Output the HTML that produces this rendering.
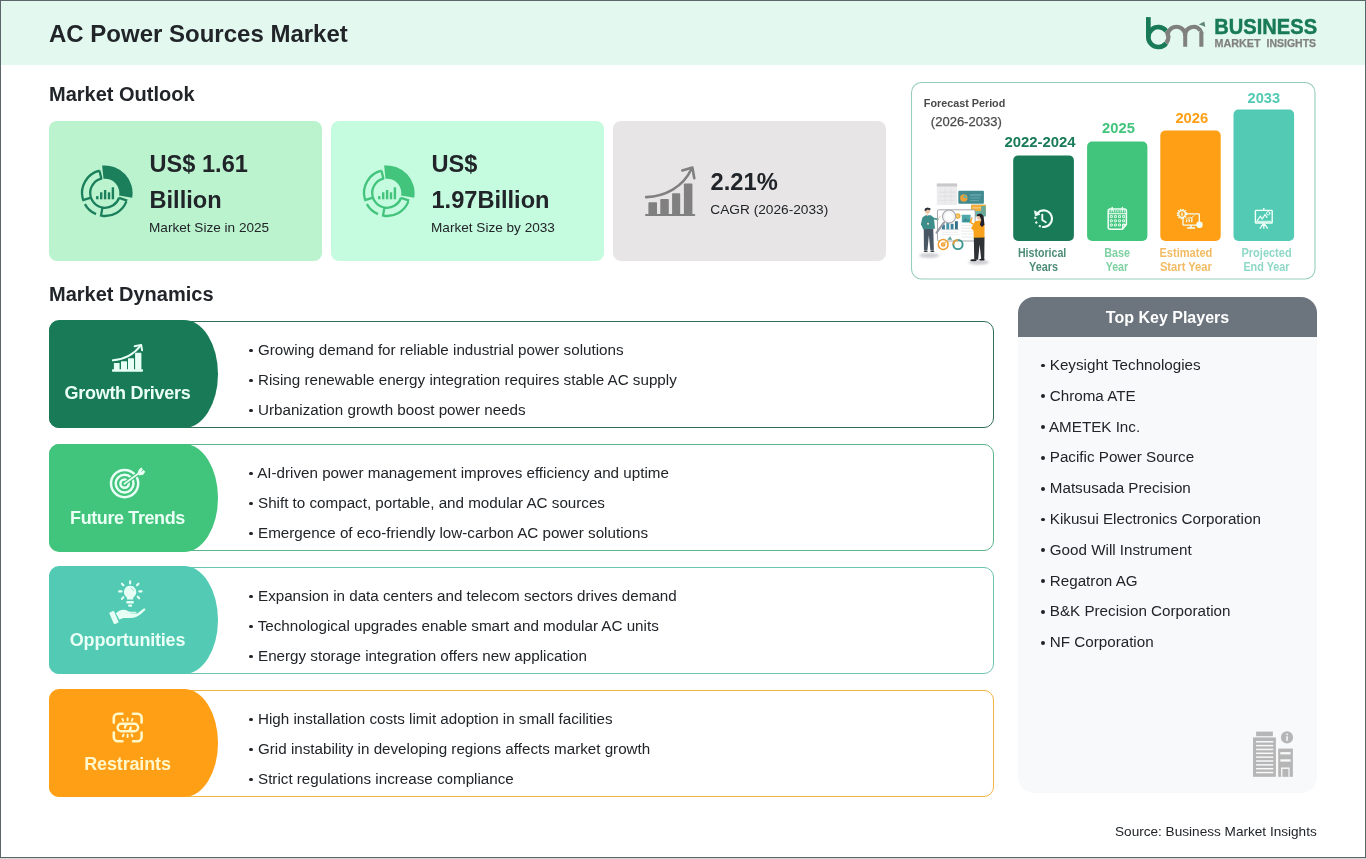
<!DOCTYPE html>
<html>
<head>
<meta charset="utf-8">
<title>AC Power Sources Market</title>
<style>
*{box-sizing:border-box;margin:0;padding:0}
html,body{width:1366px;height:859px;overflow:hidden;background:#fff}
body{font-family:"Liberation Sans",sans-serif;color:#212529;position:relative}
.abs{position:absolute}
body>*{will-change:transform}
#frame{position:absolute;left:0;top:0;width:1366px;height:858px;border:1px solid #5b6668;z-index:50;pointer-events:none}
#frame2{position:absolute;left:0;top:858px;width:1366px;height:1px;background:#d3d6d8;z-index:50}
#header{position:absolute;left:0;top:0;width:1366px;height:65px;background:#e3f8ee}
#title{position:absolute;left:49px;top:20px;font-size:24px;font-weight:bold;line-height:28px;color:#212529;white-space:nowrap}
h2{position:absolute;font-size:20px;font-weight:bold;line-height:24px;color:#212529;white-space:nowrap}
.card{position:absolute;top:121px;height:140px;border-radius:8px}
.card .big{position:absolute;font-size:24px;font-weight:bold;line-height:36px;color:#212529;white-space:nowrap}
.card .sub{position:absolute;font-size:13.6px;line-height:18px;color:#212529;white-space:nowrap}
.row{position:absolute;left:49px;width:945px;height:107px;border:1px solid;border-radius:10px;background:#fff}
.tab{position:absolute;left:-1px;top:-2px;width:168.5px;height:107.7px;border-radius:10px 34px 34px 10px / 10px 53.85px 53.85px 10px}
.tab .lbl{position:absolute;left:0;width:157px;text-align:center;font-size:18px;font-weight:bold;line-height:22px;color:#eafff5;white-space:nowrap}
.row ul{position:absolute;left:198.5px;top:13px;list-style:none}
.row li{font-size:15.2px;line-height:30px;color:#212529;white-space:nowrap}
#kp{position:absolute;left:1018px;top:297px;width:299px;height:496px;background:#f8f9fb;border-radius:16px;overflow:hidden}
#kph{position:absolute;left:0;top:0;width:299px;height:40px;background:#6c757d;color:#fff;font-weight:bold;font-size:16px;line-height:42px;text-align:center}
#kp ul{position:absolute;left:22.3px;top:53px;list-style:none}
#kp li{font-size:15.2px;line-height:30.8px;color:#212529;white-space:nowrap}
.b{display:inline-block;width:3.8px;height:3.8px;border-radius:50%;background:#212529;margin:0 0.7px 0 0.8px;vertical-align:middle;position:relative;top:-0.4px}
#src{position:absolute;right:49px;top:822.5px;font-size:13.6px;line-height:18px;color:#212529;white-space:nowrap}
</style>
</head>
<body>
<div id="header"></div>
<div id="title">AC Power Sources Market</div>
<!--LOGO--><svg class='abs' style='left:1140px;top:10px;z-index:5' width='185' height='45' viewBox='1140 10 185 45'><rect x='1146' y='17.1' width='4.7' height='20' fill='#187a57'/><path d='M1166.18 43.21A10 10 0 1 1 1166.18 30.89' fill='none' stroke='#187a57' stroke-width='4.6'/><path d='M1166.18 30.89A10 10 0 0 1 1166.18 43.21' fill='none' stroke='#808080' stroke-width='4.4'/><path d='M1168.30 37.05C1168.6 36 1167.7 36 1167.7 35.4A8.75 8.75 0 0 1 1185.2 35.4V46.8' fill='none' stroke='#808080' stroke-width='4'/><path d='M1185.2 36V35.2A8.3 8.3 0 0 1 1200.4 30.6' fill='none' stroke='#808080' stroke-width='4'/><path d='M1199.3 46.8V32.2L1201.4 28.6L1203.4 32.2V46.8Z' fill='#808080'/><path d='M1204.3 21.6L1198.8 24.4L1202.2 25.4L1205.3 27Z' fill='#5f8577'/><text x='1214.3' y='34.2' font-family='Liberation Sans, sans-serif' font-weight='bold' font-size='21.6' fill='#187a57' stroke='#187a57' stroke-width='0.45' textLength='102.8' lengthAdjust='spacingAndGlyphs'>BUSINESS</text><text x='1214.6' y='47.3' font-family='Liberation Sans, sans-serif' font-weight='bold' font-size='11.6' fill='#808080' stroke='#808080' stroke-width='0.25' textLength='46' lengthAdjust='spacingAndGlyphs'>MARKET</text><text x='1266.5' y='47.3' font-family='Liberation Sans, sans-serif' font-weight='bold' font-size='11.6' fill='#808080' stroke='#808080' stroke-width='0.25' textLength='49.6' lengthAdjust='spacingAndGlyphs'>INSIGHTS</text></svg><!--/LOGO-->

<h2 style="left:49px;top:82px">Market Outlook</h2>

<div class="card" style="left:49px;width:273px;background:#bbf3cf">
  <!--ICON1--><svg class='abs' style='left:24.2px;top:40.2px' width='64' height='64' viewBox='-32 -32 64 64'><path d='M-2.88 -27.45 A27.60 27.60 0 0 1 27.18 4.79 L14.08 2.48 A14.30 14.30 0 0 0 -1.49 -14.22 Z' fill='#1b7f5c'/><path d='M14.08 4.57 A14.80 14.80 0 1 1 -2.82 -14.53 M-22.22 5.95 A23.00 23.00 0 0 1 -5.56 -22.32 M-3.58 -14.36 L-5.61 -22.51 M-14.08 4.57 L-22.83 7.42 M-8.99 21.17 A23.00 23.00 0 0 1 -20.12 11.15 M21.33 8.62 A23.00 23.00 0 0 1 -3.20 22.78 M-2.57 14.58 L-4.17 23.64 M13.99 4.82 L22.22 7.65' fill='none' stroke='#1b7f5c' stroke-width='2.3'/><rect x='-8.9' y='3.1' width='2.4' height='3.2' fill='#1b7f5c'/><rect x='-5.0' y='-0.7' width='2.4' height='7.0' fill='#1b7f5c'/><rect x='-1.1' y='-3.0' width='2.4' height='9.3' fill='#1b7f5c'/><rect x='2.8' y='-0.7' width='2.4' height='7.0' fill='#1b7f5c'/><rect x='6.7' y='-5.7' width='2.4' height='12.0' fill='#1b7f5c'/></svg><!--/ICON1-->
  <div class="big" style="left:100.5px;top:25px;font-size:23.6px">US$ 1.61<br>Billion</div>
  <div class="sub" style="left:100px;top:98px">Market Size in 2025</div>
</div>
<div class="card" style="left:331px;width:273px;background:#c5fbde">
  <!--ICON2--><svg class='abs' style='left:24.2px;top:40.2px' width='64' height='64' viewBox='-32 -32 64 64'><path d='M-2.88 -27.45 A27.60 27.60 0 0 1 27.18 4.79 L14.08 2.48 A14.30 14.30 0 0 0 -1.49 -14.22 Z' fill='#42c47c'/><path d='M14.08 4.57 A14.80 14.80 0 1 1 -2.82 -14.53 M-22.22 5.95 A23.00 23.00 0 0 1 -5.56 -22.32 M-3.58 -14.36 L-5.61 -22.51 M-14.08 4.57 L-22.83 7.42 M-8.99 21.17 A23.00 23.00 0 0 1 -20.12 11.15 M21.33 8.62 A23.00 23.00 0 0 1 -3.20 22.78 M-2.57 14.58 L-4.17 23.64 M13.99 4.82 L22.22 7.65' fill='none' stroke='#42c47c' stroke-width='2.3'/><rect x='-8.9' y='3.1' width='2.4' height='3.2' fill='#42c47c'/><rect x='-5.0' y='-0.7' width='2.4' height='7.0' fill='#42c47c'/><rect x='-1.1' y='-3.0' width='2.4' height='9.3' fill='#42c47c'/><rect x='2.8' y='-0.7' width='2.4' height='7.0' fill='#42c47c'/><rect x='6.7' y='-5.7' width='2.4' height='12.0' fill='#42c47c'/></svg><!--/ICON2-->
  <div class="big" style="left:100.5px;top:25px;font-size:23.6px">US$<br>1.97Billion</div>
  <div class="sub" style="left:100px;top:98px">Market Size by 2033</div>
</div>
<div class="card" style="left:613px;width:273px;background:#e7e5e6">
  <!--ICON3--><svg class='abs' style='left:27px;top:39px' width='60' height='60' viewBox='640 160 60 60'><rect x='645.2' y='213.9' width='49.9' height='2.1' rx='0.6' fill='#808080'/><path d='M648.4 214.5V203.1a0.8 0.8 0 0 1 .8-.8h7a0.8 0.8 0 0 1 .8.8V214.5Z' fill='#808080'/><path d='M660.3 214.5V199.8a0.8 0.8 0 0 1 .8-.8h6.9a0.8 0.8 0 0 1 .8.8V214.5Z' fill='#808080'/><path d='M672.1 214.5V194.1a0.8 0.8 0 0 1 .8-.8h6.5a0.8 0.8 0 0 1 .8.8V214.5Z' fill='#808080'/><path d='M683.9 214.5V184.3a0.8 0.8 0 0 1 .8-.8h6.9a0.8 0.8 0 0 1 .8.8V214.5Z' fill='#808080'/><path d='M646.2 197.1C665 196.5 683 187 691.3 169.3' fill='none' stroke='#808080' stroke-width='2.6' stroke-linecap='round'/><path d='M682.3 170.4L692.4 167.6L694.3 178.2' fill='none' stroke='#808080' stroke-width='2.6' stroke-linecap='round' stroke-linejoin='round'/></svg><!--/ICON3-->
  <div class="big" style="left:97.6px;top:43.4px;font-size:23.7px">2.21%</div>
  <div class="sub" style="left:97.3px;top:80px;font-size:13.7px">CAGR (2026-2033)</div>
</div>

<!--FORECAST--><svg class='abs' style='left:905px;top:78px' width='415' height='206' viewBox='905 78 415 206'><defs><filter id='b3' x='-10%' y='-10%' width='120%' height='120%'><feGaussianBlur stdDeviation='0.45'/></filter><filter id='b2' x='-10%' y='-10%' width='120%' height='120%'><feGaussianBlur stdDeviation='0.3'/></filter><filter id='b6' x='-30%' y='-30%' width='160%' height='160%'><feGaussianBlur stdDeviation='0.9'/></filter></defs><rect x='911.5' y='82.5' width='403.5' height='196.5' rx='10' fill='#fff' stroke='#96cdbc' stroke-width='1.1'/><text x='923.8' y='106.8' font-family='Liberation Sans, sans-serif' font-weight='bold' font-size='11.4' fill='#4a4a4a' text-anchor='start' textLength='81.5' lengthAdjust='spacingAndGlyphs' filter='url(#b2)'>Forecast Period</text><text x='930.8' y='125.6' font-family='Liberation Sans, sans-serif' font-weight='normal' font-size='13.1' fill='#4a4a4a' text-anchor='start' textLength='71' lengthAdjust='spacingAndGlyphs' filter='url(#b2)' stroke='#4a4a4a' stroke-width='0.25'>(2026-2033)</text><rect x='1013.2' y='155.4' width='60.7' height='85.6' rx='5' fill='#187a57'/><rect x='1087.1' y='141.6' width='60.3' height='99.4' rx='5' fill='#41c47b'/><rect x='1160.3' y='130.6' width='60.4' height='110.4' rx='5' fill='#fe9f15'/><rect x='1233.5' y='109.6' width='60.6' height='131.4' rx='5' fill='#52cab4'/><text x='1004.4' y='147.3' font-family='Liberation Sans, sans-serif' font-weight='bold' font-size='15.4' fill='#187a57' text-anchor='start' textLength='71.2' lengthAdjust='spacingAndGlyphs'>2022-2024</text><text x='1102.1' y='133' font-family='Liberation Sans, sans-serif' font-weight='bold' font-size='15.2' fill='#41c47b' text-anchor='start' textLength='32.8' lengthAdjust='spacingAndGlyphs'>2025</text><text x='1175.4' y='123' font-family='Liberation Sans, sans-serif' font-weight='bold' font-size='15.2' fill='#fe9f15' text-anchor='start' textLength='32.8' lengthAdjust='spacingAndGlyphs'>2026</text><text x='1247.5' y='103.2' font-family='Liberation Sans, sans-serif' font-weight='bold' font-size='15.2' fill='#52cab4' text-anchor='start' textLength='32.6' lengthAdjust='spacingAndGlyphs'>2033</text><g filter='url(#b2)'><text x='1017.9' y='256.7' font-family='Liberation Sans, sans-serif' font-weight='bold' font-size='13' fill='#4c8d76' text-anchor='start' textLength='48.4' lengthAdjust='spacingAndGlyphs'>Historical</text><text x='1029.1' y='271' font-family='Liberation Sans, sans-serif' font-weight='bold' font-size='13' fill='#4c8d76' text-anchor='start' textLength='29' lengthAdjust='spacingAndGlyphs'>Years</text><text x='1104.3' y='256.7' font-family='Liberation Sans, sans-serif' font-weight='bold' font-size='13' fill='#7fd1a3' text-anchor='start' textLength='25.8' lengthAdjust='spacingAndGlyphs'>Base</text><text x='1105.7' y='271' font-family='Liberation Sans, sans-serif' font-weight='bold' font-size='13' fill='#7fd1a3' text-anchor='start' textLength='22.5' lengthAdjust='spacingAndGlyphs'>Year</text><text x='1159.4' y='256.7' font-family='Liberation Sans, sans-serif' font-weight='bold' font-size='13' fill='#f2bb63' text-anchor='start' textLength='53' lengthAdjust='spacingAndGlyphs'>Estimated</text><text x='1159.9' y='271' font-family='Liberation Sans, sans-serif' font-weight='bold' font-size='13' fill='#f2bb63' text-anchor='start' textLength='52' lengthAdjust='spacingAndGlyphs'>Start Year</text><text x='1241.5' y='256.7' font-family='Liberation Sans, sans-serif' font-weight='bold' font-size='13' fill='#8fd8c8' text-anchor='start' textLength='50.1' lengthAdjust='spacingAndGlyphs'>Projected</text><text x='1243.4' y='271' font-family='Liberation Sans, sans-serif' font-weight='bold' font-size='13' fill='#8fd8c8' text-anchor='start' textLength='46.1' lengthAdjust='spacingAndGlyphs'>End Year</text></g><g filter='url(#b2)' fill='none' stroke='#f1fff8' stroke-width='2.1' stroke-linecap='round' stroke-linejoin='round'><path d='M1037.43 213.15A8.3 8.3 0 1 1 1042.88 226.97'/><path d='M1040.76 226.50A8.3 8.3 0 0 1 1035.90 215.59' stroke-dasharray='2 3' stroke-linecap='butt'/><path d='M1034.7 211.2L1035.4 215.6L1039.6 214.4Z' fill='#f1fff8' stroke-width='1'/><path d='M1042.3 214.6V220L1045.8 222.2' stroke-width='1.9'/></g><g filter='url(#b2)' fill='none' stroke='#f1fff8' stroke-width='1.5' stroke-linejoin='round'><path d='M1110.2 208.9H1124.4a2 2 0 0 1 2 2V224.5L1122.4 229.3H1110.2a2 2 0 0 1 -2-2V210.9a2 2 0 0 1 2-2Z'/><path d='M1108.4 213.7H1126.2' stroke-width='1.1'/><path d='M1109.4 211.3H1125.4' stroke-width='2.4' stroke-dasharray='1 0.8' opacity='.8'/><path d='M1112.2 207.4v2.6M1122.4 207.4v2.6' stroke-width='1.5' stroke-linecap='round'/><rect x='1110.3' y='215.6' width='2' height='2' stroke-width='0.9'/><rect x='1114.4' y='215.6' width='2' height='2' stroke-width='0.9'/><rect x='1118.5' y='215.6' width='2' height='2' stroke-width='0.9'/><rect x='1122.6' y='215.6' width='2' height='2' stroke-width='0.9'/><rect x='1110.3' y='219.8' width='2' height='2' stroke-width='0.9'/><rect x='1114.4' y='219.8' width='2' height='2' stroke-width='0.9'/><rect x='1118.5' y='219.8' width='2' height='2' stroke-width='0.9'/><rect x='1122.6' y='219.8' width='2' height='2' stroke-width='0.9'/><rect x='1110.3' y='224.0' width='2' height='2' stroke-width='0.9'/><rect x='1114.4' y='224.0' width='2' height='2' stroke-width='0.9'/><rect x='1118.5' y='224.0' width='2' height='2' stroke-width='0.9'/><rect x='1122.6' y='224.0' width='2' height='2' stroke-width='0.9'/><path d='M1126.2 224.6H1122.6V229.2' stroke-width='1'/></g><g filter='url(#b2)' fill='none' stroke='#f1fff8' stroke-width='1.3' stroke-linejoin='round'><rect x='1183' y='213.8' width='16.3' height='11.4' rx='0.8'/><path d='M1191 225.4v2.2M1187.6 227.9h7' stroke-width='1.5' stroke-linecap='round'/><circle cx='1182' cy='214' r='3.3' fill='#fe9f15'/><circle cx='1182' cy='214' r='4.6' stroke-width='1.5' stroke-dasharray='1.3 1.1'/><path d='M1181.3 215.3L1182 212.5L1182.8 215.3Z' stroke-width='0.7'/><path d='M1186.6 222.2v-2.6M1189.2 222.2v-3.6M1191.8 222.2v-4.8' stroke-width='1.5' opacity='.85'/><path d='M1186.2 219.2L1189.4 217.2L1191.2 218L1194.4 215.4' stroke-width='0.9' opacity='.85'/><circle cx='1199.5' cy='224.8' r='3.2' fill='#f1fff8' stroke='none'/></g><g filter='url(#b2)' fill='none' stroke='#f1fff8' stroke-width='1.4' stroke-linejoin='round' stroke-linecap='round'><rect x='1255.4' y='210.4' width='16.8' height='12.6' rx='0.6'/><path d='M1263.8 208.4v1.8'/><path d='M1257.4 220.4L1260.4 216.2L1262.2 219L1265 214.6L1267 217.4' stroke-width='1.2'/><path d='M1256.6 221.6h14.2' stroke-width='1.6' opacity='.75'/><circle cx='1268.2' cy='213.2' r='1.7' stroke-width='0.9'/><path d='M1263.8 223.6v4.6M1263 224.2L1260.2 228.2M1264.6 224.2L1267.4 228.2' stroke-width='1.3'/></g><!--ILLUS--><g filter='url(#b3)'><ellipse cx='929.21' cy='255.56' rx='9.90' ry='2.56' fill='#cfcfd4' filter='url(#b6)'/><ellipse cx='978.68' cy='262.20' rx='10.24' ry='2.56' fill='#cfcfd4' filter='url(#b6)'/><rect x='936.78' y='183.39' width='20.37' height='21.54' rx='0.5' fill='#ececee'/><rect x='936.78' y='183.39' width='20.37' height='3.14' rx='0.5' fill='#c9c9cc'/><path d='M939.10 192.12 L954.82 192.12' fill='none' stroke='#d9d9dc' stroke-width='0.7' stroke-linecap='round' stroke-linejoin='round'/><path d='M939.10 196.19 L954.82 196.19' fill='none' stroke='#d9d9dc' stroke-width='0.7' stroke-linecap='round' stroke-linejoin='round'/><path d='M939.10 200.27 L954.82 200.27' fill='none' stroke='#dcdcde' stroke-width='0.7' stroke-linecap='round' stroke-linejoin='round'/><path d='M944.92 188.63 L944.92 203.76' fill='none' stroke='#dedee0' stroke-width='0.6' stroke-linecap='round' stroke-linejoin='round'/><path d='M950.75 188.63 L950.75 203.76' fill='none' stroke='#dedee0' stroke-width='0.6' stroke-linecap='round' stroke-linejoin='round'/><rect x='958.31' y='190.72' width='25.61' height='13.04' rx='1' fill='#3f8a90'/><circle cx='963.78' cy='197.94' r='3.73' fill='#e8a13a'/><path d='M963.78 197.94 L963.78 194.21 L967.51 197.94Z' fill='#5bb5b0'/><path d='M970.54 195.03 L981.01 195.03' fill='none' stroke='#7fb6bd' stroke-width='1.1' stroke-linecap='round' stroke-linejoin='round'/><path d='M970.54 197.94 L979.85 197.94' fill='none' stroke='#6fa9b2' stroke-width='0.9' stroke-linecap='round' stroke-linejoin='round'/><path d='M970.54 200.50 L978.68 200.50' fill='none' stroke='#6fa9b2' stroke-width='0.8' stroke-linecap='round' stroke-linejoin='round'/><rect x='971.12' y='204.69' width='14.78' height='11.87' rx='0.6' fill='#6db7a6'/><rect x='971.12' y='204.69' width='14.78' height='6.29' rx='0.6' fill='#f2ae3d'/><path d='M972.86 207.83 L981.59 207.83' fill='none' stroke='#f8d48a' stroke-width='1' stroke-linecap='round' stroke-linejoin='round'/><rect x='981.01' y='206.09' width='4.66' height='9.90' rx='0.4' fill='#6aa99a'/><rect x='937.47' y='209.81' width='37.72' height='31.20' rx='1.2' fill='#ffffff' stroke='#8e929b' stroke-width='0.8'/><rect x='961.80' y='214.82' width='8.73' height='7.57' rx='0.4' fill='#4fa9ab'/><path d='M962.39 221.80 L965.30 217.73 L967.63 220.06 L968.79 218.89 L970.30 221.80Z' fill='#3a8d92'/><path d='M961.80 225.30 L972.86 225.30' fill='none' stroke='#d8dadd' stroke-width='0.6' stroke-linecap='round' stroke-linejoin='round'/><path d='M961.80 228.21 L972.86 228.21' fill='none' stroke='#d8dadd' stroke-width='0.6' stroke-linecap='round' stroke-linejoin='round'/><path d='M961.80 231.12 L972.86 231.12' fill='none' stroke='#d8dadd' stroke-width='0.6' stroke-linecap='round' stroke-linejoin='round'/><path d='M961.80 234.03 L972.86 234.03' fill='none' stroke='#d8dadd' stroke-width='0.6' stroke-linecap='round' stroke-linejoin='round'/><path d='M961.80 236.94 L972.86 236.94' fill='none' stroke='#d8dadd' stroke-width='0.6' stroke-linecap='round' stroke-linejoin='round'/><rect x='942.01' y='224.71' width='2.91' height='4.66' rx='0' fill='#3f7f9a'/><rect x='946.32' y='222.97' width='2.91' height='6.40' rx='0' fill='#4596a8'/><rect x='950.63' y='223.78' width='2.91' height='5.59' rx='0' fill='#3f7f9a'/><rect x='954.94' y='221.22' width='2.91' height='8.15' rx='0' fill='#357089'/><path d='M941.20 229.60 L958.66 229.60' fill='none' stroke='#a9b4bd' stroke-width='0.5' stroke-linecap='round' stroke-linejoin='round'/><path d='M942.60 232.28 L957.73 232.28' fill='none' stroke='#e0e2e4' stroke-width='0.6' stroke-linecap='round' stroke-linejoin='round'/><path d='M942.60 234.61 L957.73 234.61' fill='none' stroke='#e0e2e4' stroke-width='0.6' stroke-linecap='round' stroke-linejoin='round'/><circle cx='957.73' cy='216.10' r='2.79' fill='#f3b23e'/><circle cx='957.73' cy='216.10' r='1.40' fill='#f7cd7a'/><path d='M943.99 222.62 L936.54 232.63' fill='none' stroke='#9a9ca3' stroke-width='2.2' stroke-linecap='round' stroke-linejoin='round'/><circle cx='949.12' cy='216.57' r='6.52' fill='#fbfbfc' stroke='#a3a5ac' stroke-width='1.1'/><circle cx='949.12' cy='216.57' r='4.66' fill='#ffffff' stroke='#e3e4e7' stroke-width='0.5'/><circle cx='943.18' cy='244.51' r='4.89' fill='#fff' stroke='#f09a2c' stroke-width='1.5'/><circle cx='943.18' cy='244.51' r='2.33' fill='#f09a2c'/><path d='M941.43 244.51 L943.18 246.25 L947.83 239.85Z' fill='#f3b75a'/><circle cx='957.96' cy='244.51' r='4.66' fill='none' stroke='#3d9690' stroke-width='1.9'/><path d='M953.31 244.51A4.66 4.66 0 0 1 957.96 239.85' fill='none' stroke='#e9a23b' stroke-width='1.9'/><path d='M947.25 239.85 L950.16 236.36 L952.14 239.85Z' fill='#58a39a'/><path d='M923.74 228.79 L933.28 228.79 L933.86 250.33 L930.37 250.33 L928.86 235.19 L927.46 250.33 L923.97 250.33Z' fill='#4a5764'/><ellipse cx='925.72' cy='251.26' rx='2.10' ry='0.81' fill='#23272e'/><ellipse cx='932.35' cy='251.26' rx='2.10' ry='0.81' fill='#23272e'/><path d='M921.41 224.71 L922.57 217.15 L925.72 215.17 L930.95 215.17 L933.86 217.73 L935.03 228.79 L923.04 229.37Z' fill='#3c8e8b'/><path d='M932.70 218.31 L937.71 219.48' fill='none' stroke='#3c8e8b' stroke-width='1.6' stroke-linecap='round' stroke-linejoin='round'/><path d='M937.71 219.48 L940.50 215.98' fill='none' stroke='#e9c3a5' stroke-width='0.9' stroke-linecap='round' stroke-linejoin='round'/><path d='M922.81 218.89 L921.64 224.71 L927.46 223.78' fill='none' stroke='#3c8e8b' stroke-width='1.5' stroke-linecap='round' stroke-linejoin='round'/><circle cx='928.04' cy='223.78' r='1.05' fill='#ecd9c8'/><circle cx='927.46' cy='210.98' r='2.56' fill='#eac4a6'/><path d='M924.55 210.98 L924.90 208.42 L927.46 207.49 L930.72 208.42 L930.02 210.16 L927.46 209.58 L926.07 210.75Z' fill='#2c2f3a'/><path d='M927.46 214.24 L927.46 215.63' fill='none' stroke='#eac4a6' stroke-width='1' stroke-linecap='round' stroke-linejoin='round'/><path d='M973.80 236.94 L984.51 236.94 L984.27 259.64 L981.25 259.64 L979.62 244.51 L978.10 259.64 L974.26 259.64Z' fill='#2f3036'/><ellipse cx='973.45' cy='260.22' rx='3.26' ry='0.93' fill='#1f2024'/><ellipse cx='981.94' cy='259.64' rx='2.79' ry='0.93' fill='#1f2024'/><path d='M971.12 228.21 L975.19 221.22 L981.01 220.29 L984.51 224.71 L984.51 237.52 L973.80 237.75 L973.45 230.54Z' fill='#f6a21f'/><path d='M974.26 224.71 L970.30 222.39 L971.70 218.31' fill='none' stroke='#f6a21f' stroke-width='1.5' stroke-linecap='round' stroke-linejoin='round'/><circle cx='971.70' cy='217.73' r='1.05' fill='#eac4a6'/><circle cx='979.38' cy='217.15' r='2.56' fill='#eac4a6'/><path d='M976.59 216.33 L977.52 214.00 L981.01 213.54 L983.57 215.98 L984.51 224.71 L981.94 227.04 L979.85 224.71 L981.25 220.06 L979.85 216.57 L978.10 215.98Z' fill='#23232b'/></g><!--/ILLUS--></svg><!--/FORECAST-->

<h2 style="left:49px;top:282px">Market Dynamics</h2>

<div class="row" style="top:321px;border-color:#2f6f5a">
  <div class="tab" style="background:#187a57"><!--TI1--><!--/TI1--><div class="lbl" style="top:61.6px;letter-spacing:-0.3px">Growth Drivers</div></div>
  <ul><li><i class="b"></i> Growing demand for reliable industrial power solutions</li><li><i class="b"></i> Rising renewable energy integration requires stable AC supply</li><li><i class="b"></i> Urbanization growth boost power needs</li></ul>
</div>
<div class="row" style="top:444px;border-color:#5bb58a">
  <div class="tab" style="background:#41c47b;top:-1px"><!--TI2--><!--/TI2--><div class="lbl" style="top:62.6px;letter-spacing:-0.4px">Future Trends</div></div>
  <ul><li><i class="b"></i> <span>A</span>I-driven power management improves efficiency and uptime</li><li><i class="b"></i> Shift to compact, portable, and modular AC sources</li><li><i class="b"></i> Emergence of eco-friendly low-carbon AC power solutions</li></ul>
</div>
<div class="row" style="top:567px;border-color:#6cc4b3">
  <div class="tab" style="background:#52cab4;top:-1.8px"><!--TI3--><!--/TI3--><div class="lbl" style="top:62.6px;letter-spacing:-0.2px">Opportunities</div></div>
  <ul><li><i class="b"></i> Expansion in data centers and telecom sectors drives demand</li><li><i class="b"></i> Technological upgrades enable smart and modular AC units</li><li><i class="b"></i> Energy storage integration offers new application</li></ul>
</div>
<div class="row" style="top:690px;border-color:#f2b541">
  <div class="tab" style="background:#fe9f15;top:-1.6px"><!--TI4--><!--/TI4--><div class="lbl" style="top:63.6px;letter-spacing:-0.15px;color:#fff6c9">Restraints</div></div>
  <ul><li><i class="b"></i> High installation costs limit adoption in small facilities</li><li><i class="b"></i> Grid instability in developing regions affects market growth</li><li><i class="b"></i> Strict regulations increase compliance</li></ul>
</div>

<div id="kp">
  <div id="kph">Top Key Players</div>
  <ul>
    <li><i class="b"></i> Keysight Technologies</li><li><i class="b"></i> Chroma ATE</li><li><i class="b"></i> <span>A</span>METEK Inc.</li><li><i class="b"></i> Pacific Power Source</li><li><i class="b"></i> Matsusada Precision</li><li><i class="b"></i> Kikusui Electronics Corporation</li><li><i class="b"></i> Good Will Instrument</li><li><i class="b"></i> Regatron AG</li><li><i class="b"></i> B&amp;K Precision Corporation</li><li><i class="b"></i> NF Corporation</li>
  </ul>
  <!--BLDG--><!--/BLDG-->
</div>

<div id="src">Source: Business Market Insights</div>
<!--TABICONS--><svg class='abs' style='left:105px;top:338px;z-index:5' width='45' height='40' viewBox='105 338 45 40'><rect x='112' y='369.3' width='31' height='2.4' rx='0.8' fill='#e8fff5'/><rect x='113.9' y='363' width='5.7' height='7' rx='0.6' fill='#e8fff5'/><rect x='121' y='361.2' width='6' height='9' rx='0.6' fill='#e8fff5'/><rect x='128' y='358.3' width='6' height='12' rx='0.6' fill='#e8fff5'/><rect x='135.1' y='352.8' width='6.3' height='17' rx='0.6' fill='#e8fff5'/><path d='M112.9 360.3C125 359.3 134.5 353.5 140.6 345.6' fill='none' stroke='#e8fff5' stroke-width='1.9' stroke-linecap='round'/><path d='M134.6 346.2L141.2 344.9L142.1 350.4' fill='none' stroke='#e8fff5' stroke-width='1.9' stroke-linecap='round' stroke-linejoin='round'/></svg><svg class='abs' style='left:105px;top:462px;z-index:5' width='45' height='42' viewBox='105 462 45 42'><circle cx='124.6' cy='483.6' r='13.6' fill='none' stroke='#e8fff5' stroke-width='2.5'/><circle cx='124.6' cy='483.6' r='8.9' fill='none' stroke='#e8fff5' stroke-width='2.5'/><circle cx='124.6' cy='483.6' r='4.2' fill='none' stroke='#e8fff5' stroke-width='2.5'/><path d='M124.6 483.6L140.5 472' stroke='#41c47b' stroke-width='4' stroke-linecap='round'/><path d='M124.4 483.8L140.5 472' stroke='#e8fff5' stroke-width='1.7' stroke-linecap='round'/><path d='M138 473.6L139.3 469.6L141.6 467.9L142.3 470.2L144.8 471.4L143.2 474.2L139.2 475Z' fill='#e8fff5' stroke='#e8fff5' stroke-width='1' stroke-linejoin='round'/><path d='M141.2 471.4L143.4 469.8' stroke='#41c47b' stroke-width='0.7'/></svg><svg class='abs' style='left:105px;top:578px;z-index:5' width='45' height='48' viewBox='105 578 45 48'><path d='M130.1 585.8a6.2 6.2 0 0 1 3.6 11.2c-.5.5-.6 1.4-.6 2.6h-6c0-1.2-.1-2.1-.6-2.6a6.2 6.2 0 0 1 3.6-11.2Z' fill='#e8fff5'/><path d='M131.3 588.2a3.6 3.6 0 0 1 2.3 2.6' fill='none' stroke='#52cab4' stroke-width='0.8' stroke-linecap='round' opacity='.7'/><rect x='126.3' y='601' width='7.6' height='2.6' rx='1' fill='#e8fff5'/><rect x='128.1' y='604.6' width='4' height='2.1' rx='1' fill='#e8fff5'/><g stroke='#e8fff5' stroke-width='2.1' stroke-linecap='round'><path d='M130.1 581.2v2.2'/><path d='M121.9 583.7l1.5 1.6'/><path d='M138.5 583.7l-1.5 1.6'/><path d='M119.1 591.4h2.5'/><path d='M139.3 591.4h2.3'/><path d='M121.9 598.9l1.5-1.6'/><path d='M139.2 598.3l-1.5-1.6'/></g><path d='M109.6 612.9L113.7 611.2L118.3 622.2L114.3 623.9Z' fill='#e8fff5' stroke='#e8fff5' stroke-width='0.8' stroke-linejoin='round'/><path d='M115.9 613.3C118 611.2 120.5 609.8 123.5 609.7C126.5 609.6 128.3 611.6 130.4 611.8L135.6 611.7C137.2 611.7 137.2 613.7 135.6 613.8L131 614.1 L136.3 613.9 C139 612.6 141.6 610.2 143.8 608.6C145 607.9 146 609.2 145 610.2C142.5 612.6 139.5 615.4 136.5 616.8C133.5 618.2 129 618.1 125.6 618C122.8 618 121.2 618.6 119.4 619.6Z' fill='#e8fff5'/><path d='M136 612.6L139.7 609.3' stroke='#52cab4' stroke-width='0.7' opacity='.8'/><path d='M130.2 613.2L135.8 613' stroke='#52cab4' stroke-width='0.7' opacity='.6'/></svg><svg class='abs' style='left:105px;top:705px;z-index:5' width='45' height='45' viewBox='105 705 45 45'><g fill='none' stroke='#fff8c8' stroke-width='2.6' stroke-linecap='round' stroke-linejoin='round'><path d='M113.8 722.6V717.8a4 4 0 0 1 4-4H122.4'/><path d='M133 713.8H137.6a4 4 0 0 1 4 4V722.6'/><path d='M113.8 732.6V737.3a4 4 0 0 0 4 4H122.4'/><path d='M133 741.3H137.6a4 4 0 0 0 4-4V732.6'/></g><g fill='none' stroke='#fff8c8' stroke-width='2.5' stroke-linecap='round'><path d='M130.7 727.5A3.8 3.8 0 0 1 126.9 731.3H121.4A3.8 3.8 0 0 1 121.4 723.7H126.6'/><path d='M125 727.5A3.8 3.8 0 0 1 128.8 723.7H134.3A3.8 3.8 0 0 1 134.3 731.3H129.1'/></g><g stroke='#fff8c8' stroke-width='1.9' stroke-linecap='round'><path d='M122.4 718.9l.8 1.8'/><path d='M127.6 718.2v2.2'/><path d='M132.6 718.9l-.8 1.8'/><path d='M122.8 736.3l.8-1.8'/><path d='M127.6 737v-2.2'/><path d='M132.4 736.3l-.8-1.8'/></g></svg><!--/TABICONS-->
<!--MISC--><svg class='abs' style='left:1248px;top:726px;z-index:5' width='50' height='55' viewBox='1248 726 50 55'><rect x='1256.1' y='731.6' width='16.8' height='4.6' fill='#b6b6b6'/><rect x='1253' y='737.4' width='22.9' height='39.4' fill='#b6b6b6'/><rect x='1256.1' y='741.00' width='17.2' height='1.5' fill='#f8f9fb'/><rect x='1256.1' y='744.85' width='17.2' height='1.5' fill='#f8f9fb'/><rect x='1256.1' y='748.70' width='17.2' height='1.5' fill='#f8f9fb'/><rect x='1256.1' y='752.55' width='17.2' height='1.5' fill='#f8f9fb'/><rect x='1256.1' y='756.40' width='17.2' height='1.5' fill='#f8f9fb'/><rect x='1256.1' y='760.25' width='17.2' height='1.5' fill='#f8f9fb'/><rect x='1256.1' y='764.10' width='17.2' height='1.5' fill='#f8f9fb'/><rect x='1256.1' y='767.95' width='17.2' height='1.5' fill='#f8f9fb'/><rect x='1256.1' y='771.80' width='17.2' height='1.5' fill='#f8f9fb'/><rect x='1278.2' y='748.6' width='14.7' height='28.2' fill='#b6b6b6'/><rect x='1280.3' y='752.1' width='10.3' height='2.3' fill='#f8f9fb'/><rect x='1280.3' y='759.3' width='10.3' height='2.3' fill='#f8f9fb'/><rect x='1281.1' y='767.5' width='8.5' height='9.3' fill='#f8f9fb'/><rect x='1282.4' y='768.9' width='6' height='7.9' fill='#b6b6b6'/><circle cx='1287' cy='737.4' r='6.1' fill='#b6b6b6'/><rect x='1286.3' y='736.2' width='1.5' height='4.6' fill='#f8f9fb'/><circle cx='1287.05' cy='734.3' r='0.9' fill='#f8f9fb'/></svg><!--/MISC-->
<div id="frame"></div><div id="frame2"></div>
</body>
</html>
